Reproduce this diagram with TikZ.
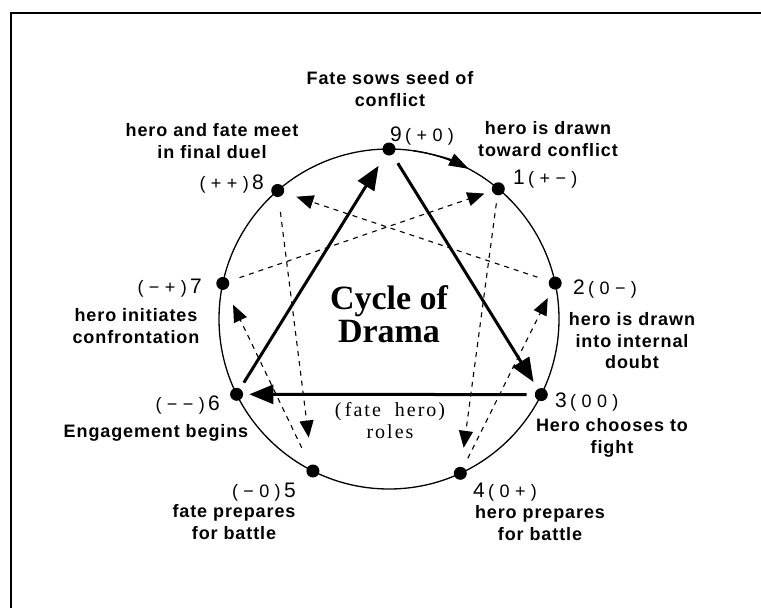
\documentclass[tikz,border=0pt]{standalone}
\usepackage{fontspec}
\setmainfont{Liberation Serif}
\newfontfamily\labfont[LetterSpace=5]{Liberation Sans}
\newfontfamily\numfont{Liberation Sans}
\newfontfamily\parfont[LetterSpace=30]{Liberation Sans}
\newfontfamily\rolefont[LetterSpace=10]{Liberation Serif}
\usetikzlibrary{arrows.meta}
\begin{document}
\begin{tikzpicture}[x=1pt,y=-1pt,
  dotnode/.style={circle,fill=black,inner sep=0pt,minimum size=13pt},
  lab/.style={font=\labfont\bfseries\fontsize{18}{21.5}\selectfont,align=center,inner sep=0pt},
  numlab/.style={font=\numfont\fontsize{21}{22}\selectfont,inner sep=0pt},
  paren/.style={font=\parfont\fontsize{18}{20}\selectfont,inner sep=0pt},
  titlelab/.style={font=\bfseries\fontsize{34}{33}\selectfont,align=center,inner sep=0pt},
  rolelab/.style={font=\rolefont\fontsize{20}{22}\selectfont,align=center,inner sep=0pt},
  solidarr/.style={line width=3pt,-{Triangle[length=24pt,width=19pt]}},
  dasharr/.style={line width=1.1pt,dash pattern=on 5pt off 5pt,-{Triangle[length=17pt,width=14pt]}},
  ring/.style={line width=1.3pt}
]
\useasboundingbox (0,0) rectangle (761,608);
\fill[white] (0,0) rectangle (761,608);
% frame
\draw[line width=2pt] (11,608) -- (11,13) -- (761,13);
% circle
\coordinate (C) at (389,319);
\draw[ring] (C) circle[radius=170];
\draw[ring,-{Triangle[length=20pt,width=13pt]}] (C) ++(-82:170) arc[start angle=-82,end angle=-62,radius=170];
% dots
\node[dotnode] (d9) at (389,149) {};
\node[dotnode] (d1) at (498.3,188.8) {};
\node[dotnode] (d2) at (555.2,283.1) {};
\node[dotnode] (d3) at (541.3,394.6) {};
\node[dotnode] (d4) at (460.3,473.3) {};
\node[dotnode] (d5) at (312.9,471.0) {};
\node[dotnode] (d6) at (236.6,394.3) {};
\node[dotnode] (d7) at (222.8,283.4) {};
\node[dotnode] (d8) at (277.7,190.5) {};
% solid triangle
\draw[solidarr,shorten <=10pt,shorten >=8pt] (d9) -- (d3);
\draw[solidarr,shorten <=8pt,shorten >=6pt] (d3) -- (d6);
\draw[solidarr,shorten <=7pt,shorten >=13pt] (d6) -- (d9);
% dashed hexad
\draw[dasharr,shorten <=8pt,shorten >=19pt] (d1) -- (d4);
\draw[dasharr,shorten <=10pt,shorten >=10pt] (d4) -- (d2);
\draw[dasharr,shorten <=12pt,shorten >=13pt] (d2) -- (d8);
\draw[dasharr,shorten <=15pt,shorten >=27pt] (d8) -- (d5);
\draw[dasharr,shorten <=19pt,shorten >=17pt] (d5) -- (d7);
\draw[dasharr,shorten <=11pt,shorten >=8pt] (d7) -- (d1);
% numbers
\node[numlab] (n9) at (396,134) {9};
\node[paren,anchor=base west] (p9) at ([xshift=3pt]n9.base east) {(+0)};
\node[numlab] (n1) at (519,177) {1};
\node[paren,anchor=base west] (p1) at ([xshift=3pt]n1.base east) {(+−)};
\node[numlab] (n2) at (579,287) {2};
\node[paren,anchor=base west] (p2) at ([xshift=3pt]n2.base east) {(0−)};
\node[numlab] (n3) at (561,400) {3};
\node[paren,anchor=base west] (p3) at ([xshift=3pt]n3.base east) {(00)};
\node[numlab] (n4) at (479,490) {4};
\node[paren,anchor=base west] (p4) at ([xshift=3pt]n4.base east) {(0+)};
\node[numlab] (n5) at (290,490) {5};
\node[paren,anchor=base east] (p5) at ([xshift=-3pt]n5.base west) {(−0)};
\node[numlab] (n6) at (214,403) {6};
\node[paren,anchor=base east] (p6) at ([xshift=-3pt]n6.base west) {(−−)};
\node[numlab] (n7) at (196,286) {7};
\node[paren,anchor=base east] (p7) at ([xshift=-3pt]n7.base west) {(−+)};
\node[numlab] (n8) at (258,182) {8};
\node[paren,anchor=base east] (p8) at ([xshift=-3pt]n8.base west) {(++)};
% descriptions
\node[lab] (t9) at (390,89) {Fate sows seed of\\conflict};
\node[lab] (t1) at (548,139) {hero is drawn\\toward conflict};
\node[lab] (t8) at (212,141) {hero and fate meet\\in final duel};
\node[lab] (t7) at (136,326) {hero initiates\\confrontation};
\node[lab] (t6) at (156,433) {Engagement begins};
\node[lab] (t5) at (234,522) {fate prepares\\for battle};
\node[lab] (t4) at (540,523) {hero prepares\\for battle};
\node[lab] (t3) at (612,438) {Hero chooses to\\fight};
\node[lab] (t2) at (632,341) {hero is drawn\\into internal\\doubt};
% centre texts
\node[titlelab] (title) at (389,314) {Cycle of\\Drama};
\node[rolelab] (roles) at (390,421) {(\,fate\ \ hero)\\roles};
\end{tikzpicture}
\end{document}
